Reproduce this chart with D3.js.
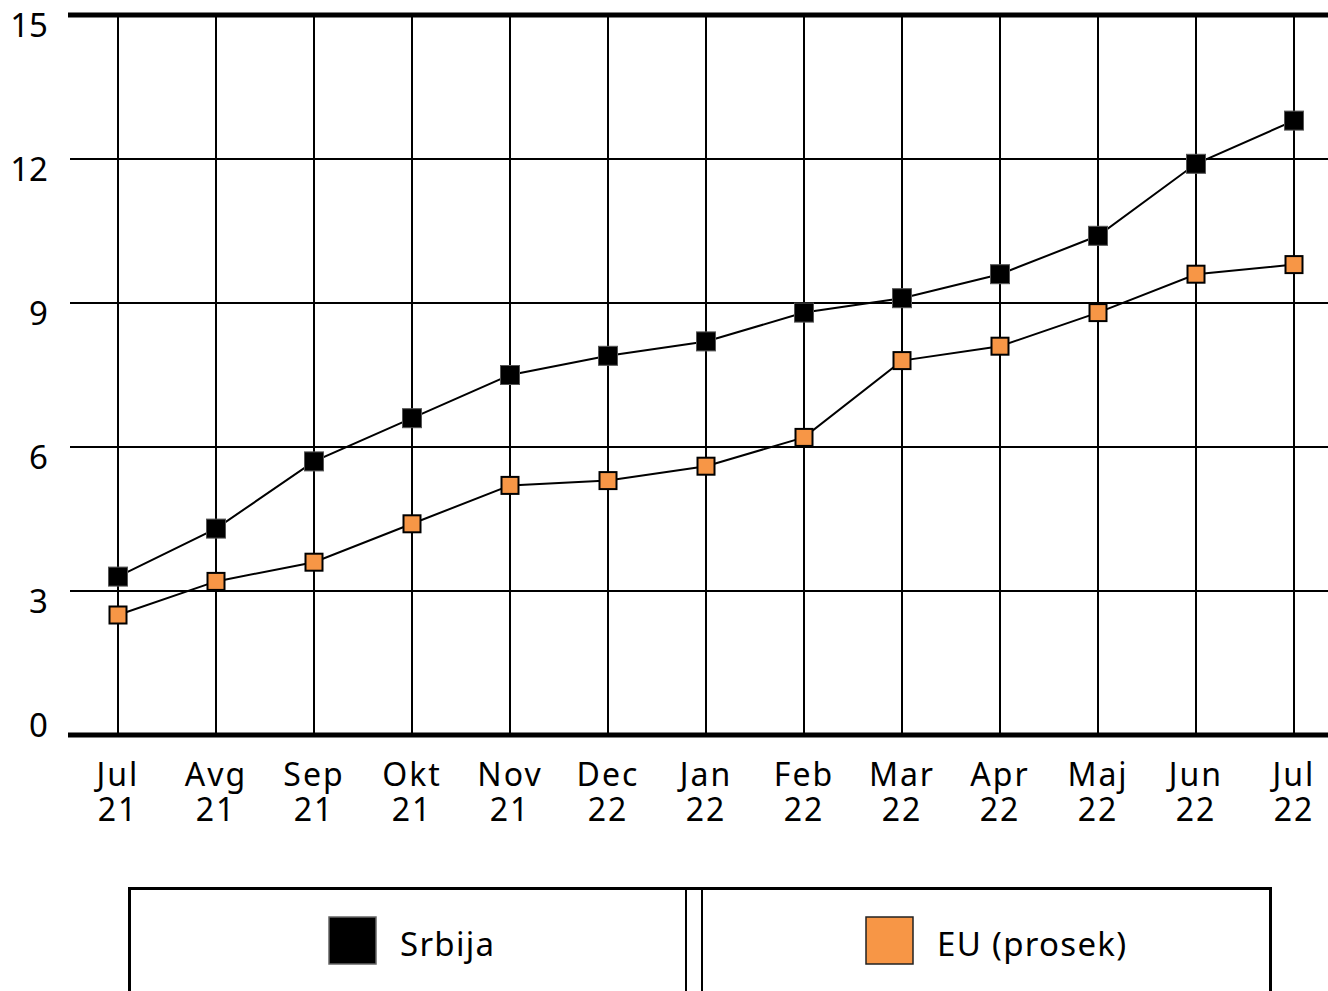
<!DOCTYPE html>
<html>
<head>
<meta charset="utf-8">
<script src="https://cdn.jsdelivr.net/npm/d3@7"></script>
<style>
  body { margin: 0; background: #fff; }
  svg { display: block; font-family: "Noto Sans", "Open Sans", sans-serif; }
</style>
</head>
<body>
<script>
// Data
const months = ["Jul", "Avg", "Sep", "Okt", "Nov", "Dec", "Jan", "Feb", "Mar", "Apr", "Maj", "Jun", "Jul"];
const years = ["21", "21", "21", "21", "21", "22", "22", "22", "22", "22", "22", "22", "22"];
const srbija = [3.3, 4.3, 5.7, 6.6, 7.5, 7.9, 8.2, 8.8, 9.1, 9.6, 10.4, 11.9, 12.8];
const eu = [2.5, 3.2, 3.6, 4.4, 5.2, 5.3, 5.6, 6.2, 7.8, 8.1, 8.8, 9.6, 9.8];
const yTicks = [0, 3, 6, 9, 12, 15];
const seriesNames = ["Srbija", "EU (prosek)"];

let width = 1328, height = 991;
let margin = { top: 15, bottom: 256, left: 70, right: 0 };

let svg = d3.select('body')
  .append('svg')
  .attr('width', width)
  .attr('height', height);

const idx = months.map((d, i) => i);

const xScale = d3.scalePoint()
  .domain(idx)
  .range([118, 1294]);

const yScale = d3.scaleLinear()
  .domain([0, 15])
  .range([height - margin.bottom, margin.top]);

// horizontal grid
svg.append('g')
  .selectAll('line')
  .data(yTicks.filter(d => d !== 0 && d !== 15))
  .enter().append('line')
  .attr('x1', margin.left).attr('x2', width)
  .attr('y1', d => yScale(d)).attr('y2', d => yScale(d))
  .attr('stroke', '#000').attr('stroke-width', 2);

// vertical grid
svg.append('g')
  .selectAll('line')
  .data(idx)
  .enter().append('line')
  .attr('x1', d => xScale(d)).attr('x2', d => xScale(d))
  .attr('y1', yScale(15)).attr('y2', yScale(0))
  .attr('stroke', '#000').attr('stroke-width', 2);

// top and bottom frame lines
[0, 15].forEach(v => {
  svg.append('line')
    .attr('x1', margin.left - 2).attr('x2', width)
    .attr('y1', yScale(v)).attr('y2', yScale(v))
    .attr('stroke', '#000').attr('stroke-width', 5);
});

// y axis labels
svg.append('g')
  .selectAll('text')
  .data(yTicks)
  .enter().append('text')
  .attr('x', 48)
  .attr('y', d => yScale(d) + (d === 0 ? -10 : 10))
  .attr('dy', '0.36em')
  .attr('text-anchor', 'end')
  .attr('font-size', 33)
  .text(d => d);

// x axis labels (two rows)
const xl = svg.append('g')
  .attr('font-size', 32)
  .attr('letter-spacing', 2)
  .attr('text-anchor', 'middle');
xl.selectAll('text.m')
  .data(idx)
  .enter().append('text')
  .attr('class', 'm')
  .attr('x', d => xScale(d))
  .attr('y', 786)
  .text(d => months[d]);
xl.selectAll('text.y')
  .data(idx)
  .enter().append('text')
  .attr('class', 'y')
  .attr('x', d => xScale(d))
  .attr('y', 821)
  .text(d => years[d]);

// lines
const line = d3.line()
  .x((d, i) => xScale(i))
  .y(d => yScale(d));

[srbija, eu].forEach(s => {
  svg.append('path')
    .datum(s)
    .attr('d', line)
    .attr('fill', 'none')
    .attr('stroke', '#000')
    .attr('stroke-width', 2);
});

// markers
svg.append('g')
  .selectAll('rect')
  .data(srbija)
  .enter().append('rect')
  .attr('x', (d, i) => xScale(i) - 9.5)
  .attr('y', d => yScale(d) - 9.5)
  .attr('width', 19).attr('height', 19)
  .attr('fill', '#000')
  .attr('stroke', '#555').attr('stroke-width', 1);

svg.append('g')
  .selectAll('rect')
  .data(eu)
  .enter().append('rect')
  .attr('x', (d, i) => xScale(i) - 8.5)
  .attr('y', d => yScale(d) - 8.5)
  .attr('width', 17).attr('height', 17)
  .attr('fill', '#f79646')
  .attr('stroke', '#000').attr('stroke-width', 2);

// legend
const lg = svg.append('g');
lg.append('path')
  .attr('d', 'M129.5,1000 V888.5 H1270.5 V1000')
  .attr('fill', 'none').attr('stroke', '#000').attr('stroke-width', 3);
[686, 702].forEach(x => {
  lg.append('line')
    .attr('x1', x).attr('x2', x)
    .attr('y1', 888).attr('y2', 1000)
    .attr('stroke', '#000').attr('stroke-width', 2);
});

const legendItems = [
  { name: seriesNames[0], x: 329, fill: '#000', stroke: '#666' },
  { name: seriesNames[1], x: 866, fill: '#f79646', stroke: '#222' }
];
legendItems.forEach(it => {
  lg.append('rect')
    .attr('x', it.x).attr('y', 917)
    .attr('width', 47).attr('height', 47)
    .attr('fill', it.fill).attr('stroke', it.stroke).attr('stroke-width', 1.5);
  lg.append('text')
    .attr('x', it.x + 71).attr('y', 956)
    .attr('font-size', 33)
    .attr('letter-spacing', 1.3)
    .text(it.name);
});
</script>
</body>
</html>
